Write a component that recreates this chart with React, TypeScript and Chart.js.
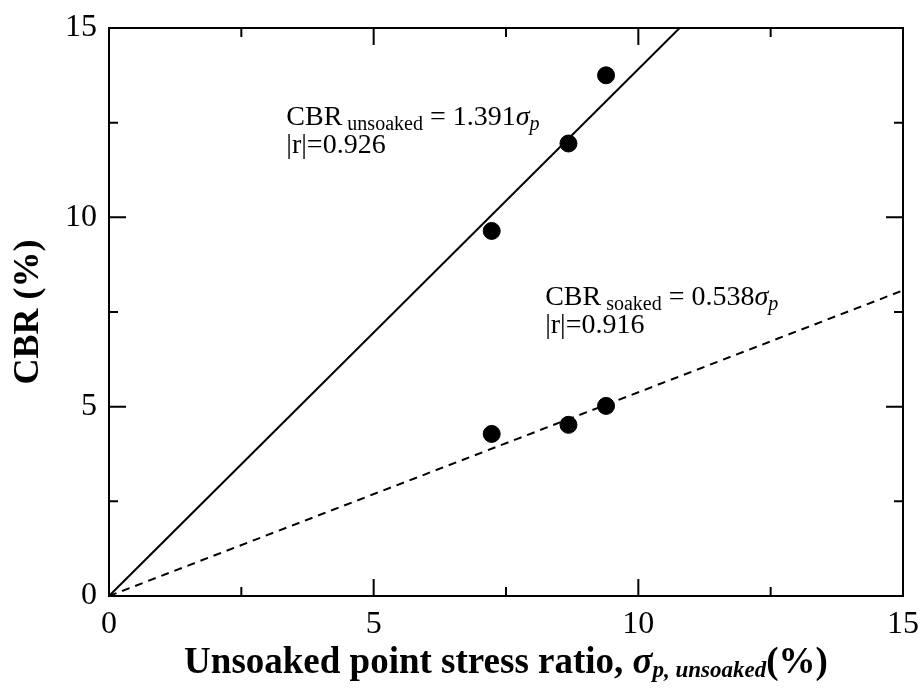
import React, { useEffect, useRef } from "react";
import { Chart, registerables } from "chart.js";

Chart.register(...registerables);

// ---- data ----
const unsoakedStress = [7.23, 8.68, 9.39];
const unsoakedCBR = [9.64, 11.95, 13.75];
const soakedStress = [7.23, 8.68, 9.39];
const soakedCBR = [4.28, 4.52, 5.02];
const fitUnsoakedX = [0, 10.78];
const fitUnsoakedY = [0, 15];
const fitSoakedX = [0, 15];
const fitSoakedY = [0, 8.07];
const majorTicks = [0, 5, 10, 15];
const minorTicks = [2.5, 7.5, 12.5];

// annotation anchors (data coordinates)
const unsoakedNoteAt = [3.35, 12.45];
const soakedNoteAt = [8.24, 7.68];

const SERIF = "'Liberation Serif', 'Times New Roman', serif";

type Run = { text: string; font: string; dy?: number };

function drawRuns(ctx: CanvasRenderingContext2D, runs: Run[], x: number, y: number, align: "left" | "center" = "left") {
  ctx.textBaseline = "alphabetic";
  ctx.textAlign = "left";
  let total = 0;
  const widths = runs.map((r) => {
    ctx.font = r.font;
    const w = ctx.measureText(r.text).width;
    total += w;
    return w;
  });
  let cx = align === "center" ? x - total / 2 : x;
  runs.forEach((r, i) => {
    ctx.font = r.font;
    ctx.fillText(r.text, cx, y + (r.dy || 0));
    cx += widths[i];
  });
}

const framePlugin = {
  id: "frameAndNotes",
  afterDatasetsDraw(chart: any) {
    const { ctx, chartArea } = chart;
    const { left, right, top, bottom } = chartArea;
    const xs = chart.scales.x;
    const ys = chart.scales.y;
    ctx.save();
    ctx.strokeStyle = "#000";
    ctx.lineWidth = 2;
    ctx.setLineDash([]);
    ctx.strokeRect(left, top, right - left, bottom - top);
    ctx.beginPath();
    const maj = 17;
    const min = 9;
    majorTicks.forEach((v) => {
      const px = xs.getPixelForValue(v);
      ctx.moveTo(px, bottom); ctx.lineTo(px, bottom - maj);
      ctx.moveTo(px, top); ctx.lineTo(px, top + maj);
      const py = ys.getPixelForValue(v);
      ctx.moveTo(left, py); ctx.lineTo(left + maj, py);
      ctx.moveTo(right, py); ctx.lineTo(right - maj, py);
    });
    minorTicks.forEach((v) => {
      const px = xs.getPixelForValue(v);
      ctx.moveTo(px, bottom); ctx.lineTo(px, bottom - min);
      ctx.moveTo(px, top); ctx.lineTo(px, top + min);
      const py = ys.getPixelForValue(v);
      ctx.moveTo(left, py); ctx.lineTo(left + min, py);
      ctx.moveTo(right, py); ctx.lineTo(right - min, py);
    });
    ctx.stroke();

    ctx.fillStyle = "#000";
    const big = `28px ${SERIF}`;
    const sub = `20px ${SERIF}`;
    const bigI = `italic 28px ${SERIF}`;
    const subI = `italic 20px ${SERIF}`;

    // unsoaked note
    let ax = xs.getPixelForValue(unsoakedNoteAt[0]);
    let ay = ys.getPixelForValue(unsoakedNoteAt[1]);
    drawRuns(ctx, [
      { text: "CBR", font: big },
      { text: " unsoaked", font: sub, dy: 5 },
      { text: " = 1.391", font: big },
      { text: "σ", font: bigI },
      { text: "p", font: subI, dy: 5 },
    ], ax, ay);
    drawRuns(ctx, [{ text: "|r|=0.926", font: big }], ax, ay + 28);

    // soaked note
    ax = xs.getPixelForValue(soakedNoteAt[0]);
    ay = ys.getPixelForValue(soakedNoteAt[1]);
    drawRuns(ctx, [
      { text: "CBR", font: big },
      { text: " soaked", font: sub, dy: 5 },
      { text: " = 0.538", font: big },
      { text: "σ", font: bigI },
      { text: "p", font: subI, dy: 5 },
    ], ax, ay);
    drawRuns(ctx, [{ text: "|r|=0.916", font: big }], ax, ay + 28);

    // x-axis title
    drawRuns(ctx, [
      { text: "Unsoaked point stress ratio, ", font: `bold 37px ${SERIF}` },
      { text: "σ", font: `bold italic 37px ${SERIF}` },
      { text: "p, unsoaked", font: `bold italic 23px ${SERIF}`, dy: 4 },
      { text: "(%)", font: `bold 37px ${SERIF}` },
    ], (left + right) / 2, 673, "center");

    // y-axis title
    ctx.save();
    ctx.translate(29, (top + bottom) / 2);
    ctx.rotate(-Math.PI / 2);
    ctx.font = `bold 36px ${SERIF}`;
    ctx.textAlign = "center";
    ctx.textBaseline = "middle";
    ctx.fillText("CBR (%)", 0, 0);
    ctx.restore();

    ctx.restore();
  },
};

function toPoints(xs: number[], ys: number[]) {
  return xs.map((x, i) => ({ x, y: ys[i] }));
}

export default function App() {
  const ref = useRef<HTMLCanvasElement | null>(null);
  useEffect(() => {
    if (!ref.current) return;
    const chart = new Chart(ref.current, {
      type: "scatter",
      data: {
        datasets: [
          {
            label: "Unsoaked",
            data: toPoints(unsoakedStress, unsoakedCBR),
            backgroundColor: "#000",
            borderColor: "#000",
            pointRadius: 8.5,
            pointHoverRadius: 8.5,
            order: 0,
          },
          {
            label: "Soaked",
            data: toPoints(soakedStress, soakedCBR),
            backgroundColor: "#000",
            borderColor: "#000",
            pointRadius: 8.5,
            pointHoverRadius: 8.5,
            order: 0,
          },
          {
            label: "Unsoaked fit",
            data: toPoints(fitUnsoakedX, fitUnsoakedY),
            showLine: true,
            borderColor: "#000",
            borderWidth: 2,
            pointRadius: 0,
            order: 1,
          },
          {
            label: "Soaked fit",
            data: toPoints(fitSoakedX, fitSoakedY),
            showLine: true,
            borderColor: "#000",
            borderWidth: 2,
            borderDash: [8, 6],
            pointRadius: 0,
            order: 1,
          },
        ],
      },
      options: {
        animation: false,
        responsive: true,
        maintainAspectRatio: false,
        layout: { padding: { top: 28, right: 18, left: 0, bottom: 0 } },
        plugins: { legend: { display: false }, tooltip: { enabled: false } },
        scales: {
          x: {
            type: "linear",
            min: 0,
            max: 15,
            grid: { display: false, drawTicks: false },
            border: { display: false },
            ticks: {
              stepSize: 5,
              padding: 9,
              color: "#000",
              font: { family: SERIF, size: 32 },
              maxRotation: 0,
            },
            afterFit: (s: any) => {
              s.height = 92;
              s.paddingLeft = 0;
              s.paddingRight = 0;
            },
          },
          y: {
            type: "linear",
            min: 0,
            max: 15,
            grid: { display: false, drawTicks: false },
            border: { display: false },
            ticks: {
              stepSize: 5,
              padding: 12,
              color: "#000",
              font: { family: SERIF, size: 32 },
            },
            afterFit: (s: any) => {
              s.width = 109;
              s.paddingTop = 0;
              s.paddingBottom = 0;
            },
          },
        },
      },
      plugins: [framePlugin],
    } as any);
    return () => chart.destroy();
  }, []);
  return (
    <div style={{ position: "fixed", left: 0, top: 0, width: 921, height: 688, background: "#fff" }}>
      <canvas ref={ref} />
    </div>
  );
}
